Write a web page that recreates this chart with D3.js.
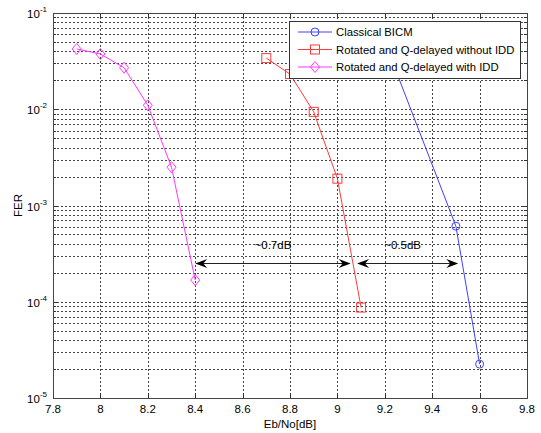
<!DOCTYPE html>
<html>
<head>
<meta charset="utf-8">
<script src="https://cdn.jsdelivr.net/npm/d3@7"></script>
<style>
  body { margin: 0; background: #fff; }
  text { font-family: "Liberation Sans", Arial, sans-serif; }
</style>
</head>
<body>
<div id="chart"></div>
<script>
// series data
var bicmX = [9.25, 9.5, 9.6];
var bicmY = [0.024, 6.1e-4, 2.25e-5];
var noIddX = [8.7, 8.8, 8.9, 9.0, 9.1];
var noIddY = [0.034, 0.0232, 0.0094, 0.0019, 8.7e-5];
var iddX = [7.9, 8.0, 8.1, 8.2, 8.3, 8.4];
var iddY = [0.0423, 0.0375, 0.027, 0.011, 0.0025, 1.68e-4];

var xTicks = [7.8, 8, 8.2, 8.4, 8.6, 8.8, 9, 9.2, 9.4, 9.6, 9.8];
var yExps = [-1, -2, -3, -4, -5];

var legendLabels = ["Classical BICM", "Rotated and Q-delayed without IDD", "Rotated and Q-delayed with IDD"];

// gap annotations: x from, x to, FER level, label
var arrows = [
  {x0: 8.4, x1: 9.056, y: 2.53e-4, label: "~0.7dB"},
  {x0: 9.083, x1: 9.51, y: 2.53e-4, label: "~0.5dB"}
];

(function() {
var W = 541, H = 433;
var pLeft = 53, pRight = 527, pTop = 13, pBottom = 398;

var svg = d3.select("#chart").append("svg")
  .attr("width", W).attr("height", H);

var x = d3.scaleLinear().domain([7.8, 9.8]).range([pLeft, pRight]);
var y = d3.scaleLog().domain([1e-5, 1e-1]).range([pBottom, pTop]);

// grid
var grid = svg.append("g");
xTicks.forEach(function(t, i) {
  if (i == 0 || i == xTicks.length - 1) return;
  var xx = Math.round(x(t)) + 0.5;
  grid.append("line")
    .attr("x1", xx).attr("x2", xx).attr("y1", pTop).attr("y2", pBottom)
    .attr("stroke", "#444").attr("stroke-width", 1).attr("stroke-dasharray", "2,2");
});
var yGrid = [];
for (var e = -5; e < -1; e++) {
  for (var m = 1; m < 10; m++) yGrid.push(m * Math.pow(10, e));
}
yGrid.forEach(function(v, i) {
  if (i == 0) return;
  var yy = Math.round(y(v)) + 0.5;
  grid.append("line")
    .attr("x1", pLeft).attr("x2", pRight).attr("y1", yy).attr("y2", yy)
    .attr("stroke", "#444").attr("stroke-width", 1).attr("stroke-dasharray", "2,2");
});

// ticks inside the box
var tk = svg.append("g").attr("stroke", "#333").attr("stroke-width", 1);
xTicks.forEach(function(t) {
  var xx = Math.round(x(t)) + 0.5;
  tk.append("line").attr("x1", xx).attr("x2", xx).attr("y1", pBottom).attr("y2", pBottom - 5);
  tk.append("line").attr("x1", xx).attr("x2", xx).attr("y1", pTop).attr("y2", pTop + 5);
});
yGrid.concat([0.1]).forEach(function(v) {
  var major = Math.abs(Math.log10(v) - Math.round(Math.log10(v))) < 1e-9;
  var len = major ? 5 : 3;
  var yy = Math.round(y(v)) + 0.5;
  tk.append("line").attr("x1", pLeft).attr("x2", pLeft + len).attr("y1", yy).attr("y2", yy);
  tk.append("line").attr("x1", pRight).attr("x2", pRight - len).attr("y1", yy).attr("y2", yy);
});

// box
svg.append("rect")
  .attr("x", pLeft + 0.5).attr("y", pTop + 0.5)
  .attr("width", pRight - pLeft).attr("height", pBottom - pTop)
  .attr("fill", "none").attr("stroke", "#444").attr("stroke-width", 1);

// tick labels
svg.append("g").selectAll("text").data(xTicks).enter().append("text")
  .attr("x", function(d) { return x(d); }).attr("y", 413)
  .attr("text-anchor", "middle").attr("font-size", 11.5).attr("fill", "#000")
  .text(function(d) { return d; });

yExps.forEach(function(ex) {
  var t = svg.append("text")
    .attr("x", 47).attr("y", y(Math.pow(10, ex)) + 5)
    .attr("text-anchor", "end").attr("font-size", 11.5).attr("fill", "#000");
  t.append("tspan").text("10");
  t.append("tspan").attr("dy", -6).attr("font-size", 8).text(ex);
});

// axis titles
svg.append("text").attr("x", (pLeft + pRight) / 2).attr("y", 428)
  .attr("text-anchor", "middle").attr("font-size", 11.5).text("Eb/No[dB]");
svg.append("text").attr("transform", "translate(22," + ((pTop + pBottom) / 2) + ") rotate(-90)")
  .attr("text-anchor", "middle").attr("font-size", 11.5).text("FER");

// series
var line = d3.line().x(function(d) { return x(d[0]); }).y(function(d) { return y(d[1]); });
function pairs(xs, ys) { return xs.map(function(v, i) { return [v, ys[i]]; }); }

function marker(g, kind, cx, cy, color) {
  if (kind == "circle") {
    g.append("circle").attr("cx", cx).attr("cy", cy).attr("r", 4)
      .attr("fill", "none").attr("stroke", color);
  } else if (kind == "square") {
    g.append("rect").attr("x", cx - 4.5).attr("y", cy - 4.5).attr("width", 9).attr("height", 9)
      .attr("fill", "none").attr("stroke", color);
  } else {
    g.append("path").attr("d", "M" + cx + "," + (cy - 5.5) + "L" + (cx + 4.5) + "," + cy + "L" + cx + "," + (cy + 5.5) + "L" + (cx - 4.5) + "," + cy + "Z")
      .attr("fill", "none").attr("stroke", color);
  }
}

var series = [
  {data: pairs(bicmX, bicmY), color: "#4040ff", kind: "circle"},
  {data: pairs(noIddX, noIddY), color: "#ff3b3b", kind: "square"},
  {data: pairs(iddX, iddY), color: "#ff38ff", kind: "diamond"}
];

var sg = svg.append("g");
series.forEach(function(s) {
  sg.append("path").attr("d", line(s.data)).attr("fill", "none")
    .attr("stroke", s.color).attr("stroke-width", 1);
  s.data.forEach(function(d) { marker(sg, s.kind, x(d[0]), y(d[1]), s.color); });
});

// arrows
function head(g, tx, ty, dir) {
  // concave arrowhead pointing in dir (+1 right, -1 left)
  var L = 12, Wd = 4.5, back = 8;
  g.append("path")
    .attr("d", "M" + tx + "," + ty +
      "L" + (tx - dir * L) + "," + (ty - Wd) +
      "L" + (tx - dir * back) + "," + ty +
      "L" + (tx - dir * L) + "," + (ty + Wd) + "Z")
    .attr("fill", "#000");
}
var ag = svg.append("g");
arrows.forEach(function(a, i) {
  var x0 = x(a.x0), x1 = x(a.x1), yy = Math.round(y(a.y)) + 0.5;
  ag.append("line").attr("x1", x0 + 6).attr("x2", x1 - 6).attr("y1", yy).attr("y2", yy)
    .attr("stroke", "#222").attr("stroke-width", 1);
  head(ag, x0, yy, -1);
  head(ag, x1, yy, 1);
  ag.append("text").attr("x", (x0 + x1) / 2 + (i == 0 ? 0 : -5)).attr("y", yy - 15)
    .attr("text-anchor", "middle").attr("font-size", 11.5).text(a.label);
});

// legend
var lg = svg.append("g");
lg.append("rect").attr("x", 289.5).attr("y", 21.5).attr("width", 231).attr("height", 57)
  .attr("fill", "#fff").attr("stroke", "#333").attr("stroke-width", 1);
legendLabels.forEach(function(lab, i) {
  var ly = 32 + i * 17.5;
  var s = series[i];
  lg.append("line").attr("x1", 298).attr("x2", 332).attr("y1", ly).attr("y2", ly)
    .attr("stroke", s.color).attr("stroke-width", 1);
  marker(lg, s.kind, 315, ly, s.color);
  lg.append("text").attr("x", 336).attr("y", ly + 4).attr("font-size", 11.3).text(lab);
});
})();
</script>
</body>
</html>
